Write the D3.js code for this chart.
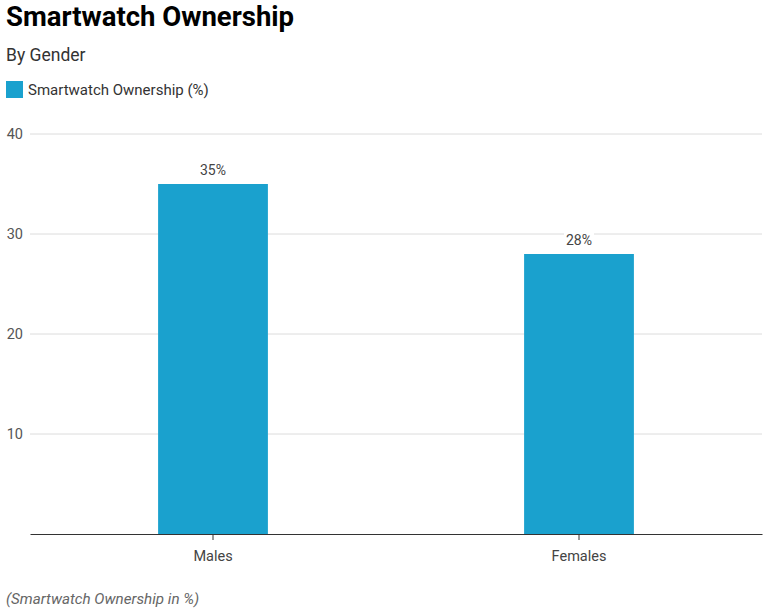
<!DOCTYPE html>
<html>
<head>
<meta charset="utf-8">
<script src="https://cdn.jsdelivr.net/npm/d3@7"></script>
<style>
  html, body { margin: 0; padding: 0; background: #fff; }
  svg { display: block; font-family: Roboto, "Noto Sans", sans-serif; }
</style>
</head>
<body>
<svg id="chart" width="763" height="609"></svg>
<script>
// Chart data
const categories = ["Males", "Females"];
const ownership = [35, 28];
const yTicks = [10, 20, 30, 40];
const seriesName = "Smartwatch Ownership (%)";
const titleText = "Smartwatch Ownership";
const subtitleText = "By Gender";
const footnoteText = "(Smartwatch Ownership in %)";

const barColor = "#1aa1ce";
const svg = d3.select("#chart");

const plot = { left: 30, right: 762, top: 134, bottom: 534 };

const x = d3.scaleBand()
  .domain(categories)
  .range([plot.left, plot.right])
  .paddingInner(0)
  .paddingOuter(0);
const barWidth = x.bandwidth() * 0.3;

const y = d3.scaleLinear()
  .domain([0, 40])
  .range([plot.bottom, plot.top]);

// Title block
svg.append("text")
  .attr("x", 6).attr("y", 26)
  .attr("font-size", 27.5).attr("font-weight", 700).attr("fill", "#000")
  .text(titleText);

svg.append("text")
  .attr("x", 6).attr("y", 61)
  .attr("font-size", 17.5).attr("fill", "#333")
  .text(subtitleText);

// Legend
svg.append("rect")
  .attr("x", 6).attr("y", 81).attr("width", 17).attr("height", 17)
  .attr("fill", barColor);
svg.append("text")
  .attr("x", 28).attr("y", 95)
  .attr("font-size", 15).attr("fill", "#333")
  .text(seriesName);

// Grid lines and y labels
const yAxis = svg.append("g");
yAxis.selectAll("line")
  .data(yTicks)
  .join("line")
  .attr("x1", plot.left).attr("x2", plot.right)
  .attr("y1", d => y(d)).attr("y2", d => y(d))
  .attr("stroke", "#dcdcdc").attr("stroke-width", 1);
yAxis.selectAll("text")
  .data(yTicks)
  .join("text")
  .attr("x", 23).attr("y", d => y(d) + 5)
  .attr("text-anchor", "end")
  .attr("font-size", 14.5).attr("fill", "#555")
  .text(d => d);

// Bars
svg.append("g").selectAll("rect")
  .data(categories)
  .join("rect")
  .attr("x", (d) => x(d) + (x.bandwidth() - barWidth) / 2)
  .attr("width", barWidth)
  .attr("y", (d, i) => y(ownership[i]))
  .attr("height", (d, i) => y(0) - y(ownership[i]))
  .attr("fill", barColor);

// Value labels with a white backing so the gridline breaks behind them
const labels = svg.append("g").selectAll("g")
  .data(categories)
  .join("g")
  .attr("transform", (d, i) => `translate(${x(d) + x.bandwidth() / 2},${y(ownership[i]) - 9})`);
labels.append("text")
  .attr("text-anchor", "middle")
  .attr("font-size", 14).attr("fill", "#444")
  .text((d, i) => ownership[i] + "%")
  .each(function () {
    const b = this.getBBox();
    d3.select(this.parentNode).insert("rect", "text")
      .attr("x", b.x - 2).attr("y", b.y)
      .attr("width", b.width + 4).attr("height", b.height)
      .attr("fill", "#fff");
  });

// X axis
const xAxis = d3.axisBottom(x).tickSize(6).tickSizeOuter(0);
const gx = svg.append("g")
  .attr("transform", `translate(0,${plot.bottom})`)
  .call(xAxis);
gx.select(".domain").attr("stroke", "#333").attr("stroke-width", 1.2);
gx.selectAll(".tick line").attr("stroke", "#333");
gx.selectAll(".tick text")
  .attr("font-family", "Roboto, sans-serif")
  .attr("font-size", 14.5).attr("fill", "#444")
  .attr("dy", "0.71em").attr("y", 17);

// Footnote
svg.append("text")
  .attr("x", 6).attr("y", 604)
  .attr("font-size", 15.2).attr("font-style", "italic").attr("fill", "#666")
  .text(footnoteText);
</script>
</body>
</html>
